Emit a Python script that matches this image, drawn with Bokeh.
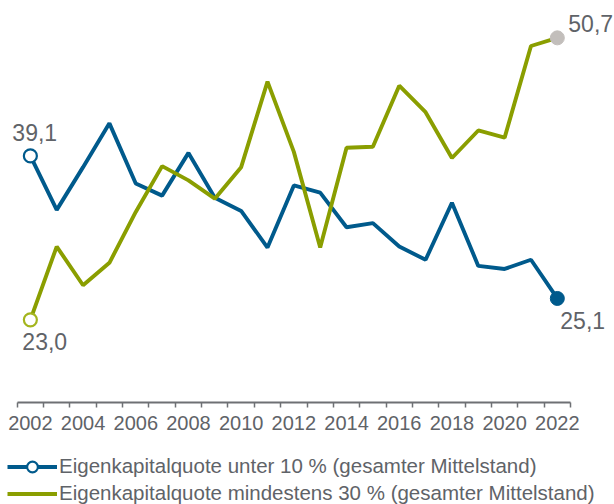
from bokeh.plotting import figure
from bokeh.layouts import column
from bokeh.models import (ColumnDataSource, FixedTicker, Label, Legend, LegendItem,
                          Range1d)
from bokeh.embed import file_html
from bokeh.resources import INLINE

years = list(range(2002, 2023))
under10 = [39.1, 33.8, 38.0, 42.3, 36.4, 35.2, 39.4, 35.0, 33.7, 30.1, 36.2,
           35.5, 32.1, 32.5, 30.2, 28.9, 34.5, 28.3, 28.0, 28.9, 25.1]
atleast30 = [23.0, 30.2, 26.4, 28.6, 33.6, 38.1, 36.7, 34.9, 38.0, 46.4, 39.5,
             30.1, 39.9, 40.0, 46.0, 43.4, 38.9, 41.6, 40.9, 49.9, 50.7]
tick_years = list(range(2002, 2023, 2))
series_names = ["Eigenkapitalquote unter 10 % (gesamter Mittelstand)",
                "Eigenkapitalquote mindestens 30 % (gesamter Mittelstand)"]

BLUE = "#005A8C"
GREEN = "#8A9E00"
GREEN_LIGHT = "#A4B51E"
GREY_MARK = "#C2BEBB"
TEXT = "#5F6368"
AXIS = "#6E7074"
FONT = "Liberation Sans"
LW = 3.9

W, H = 614, 504
H1 = 440                 # chart part (frame + x axis)
frame_h = 402            # frame spans from top of canvas down to the axis line
axis_left, axis_right = 16.7, 570.0
px_per_year = (axis_right - axis_left) / len(years)
px_per_unit = 10.18
y0 = 14.88

x_start = years[0] - 0.5 - axis_left / px_per_year
x_end = years[-1] + 0.5 + (W - axis_right) / px_per_year

p = figure(width=W, height=H1, output_backend="svg", toolbar_location=None,
           x_range=Range1d(x_start, x_end),
           y_range=Range1d(y0, y0 + frame_h / px_per_unit),
           y_axis_location=None, min_border_left=0, min_border_right=0,
           min_border_top=0, min_border_bottom=H1 - frame_h)
p.outline_line_color = None
p.xgrid.grid_line_color = None
p.ygrid.grid_line_color = None
p.background_fill_color = "white"

src = ColumnDataSource(dict(x=years, a=under10, b=atleast30))

p.line("x", "a", source=src, line_color=BLUE, line_width=LW)
p.line("x", "b", source=src, line_color=GREEN, line_width=LW)

p.scatter([years[0]], [under10[0]], size=13, fill_color="white",
          line_color=BLUE, line_width=2.2)
p.scatter([years[0]], [atleast30[0]], size=13, fill_color="white",
          line_color=GREEN_LIGHT, line_width=2.2)
p.scatter([years[-1]], [under10[-1]], size=14, fill_color=BLUE, line_color=BLUE)
p.scatter([years[-1]], [atleast30[-1]], size=14, fill_color=GREY_MARK,
          line_color=GREY_MARK)

def fmt(v):
    return f"{v:.1f}".replace(".", ",")

label_specs = [
    (years[0], under10[0], -18, 23.5),
    (years[0], atleast30[0], -8, -22),
    (years[-1], atleast30[-1], 11, 14),
    (years[-1], under10[-1], 3, -22.5),
]
for x, y, dx, dy in label_specs:
    p.add_layout(Label(x=x, y=y, text=fmt(y), x_offset=dx, y_offset=dy,
                       text_align="left", text_baseline="middle",
                       text_font=FONT, text_font_size="23px", text_color=TEXT))

ax = p.xaxis[0]
ax.bounds = (years[0] - 0.5, years[-1] + 0.5)
ax.ticker = FixedTicker(ticks=tick_years,
                        minor_ticks=[y - 0.5 for y in years] + [years[-1] + 0.5])
ax.axis_line_color = AXIS
ax.axis_line_width = 2
ax.major_tick_line_color = None
ax.major_tick_in = 0
ax.major_tick_out = 0
ax.minor_tick_in = 0
ax.minor_tick_out = 5
ax.minor_tick_line_color = AXIS
ax.minor_tick_line_width = 1.5
ax.major_label_text_font = FONT
ax.major_label_text_font_size = "20px"
ax.major_label_text_color = TEXT
ax.major_label_standoff = 8

# legend strip (its own small figure; the sample glyphs lie outside its ranges)
H2 = H - H1
q = figure(width=W, height=H2, output_backend="svg", toolbar_location=None,
           x_range=Range1d(0, 1), y_range=Range1d(0, 1),
           x_axis_location=None, y_axis_location=None,
           min_border_left=0, min_border_right=0, min_border_top=0,
           min_border_bottom=0)
q.outline_line_color = None
q.xgrid.grid_line_color = None
q.ygrid.grid_line_color = None
lq_blue = q.line(years, under10, line_color=BLUE, line_width=LW)
mq_blue = q.scatter([years[0]], [under10[0]], size=10, fill_color="white",
                    line_color=BLUE, line_width=2.2)
lq_green = q.line(years, atleast30, line_color=GREEN, line_width=LW)

legend = Legend(items=[LegendItem(label=series_names[0], renderers=[lq_blue, mq_blue]),
                       LegendItem(label=series_names[1], renderers=[lq_green])],
                location=(7, -2.5), orientation="vertical",
                glyph_width=50, glyph_height=27, label_height=27, spacing=0,
                padding=0, margin=0, label_standoff=2,
                label_text_font=FONT, label_text_font_size="20.5px",
                label_text_color=TEXT, border_line_color=None,
                background_fill_alpha=0)
q.add_layout(legend, "center")

layout = column(p, q, spacing=0)
open("out.html", "w").write(file_html(layout, INLINE))
